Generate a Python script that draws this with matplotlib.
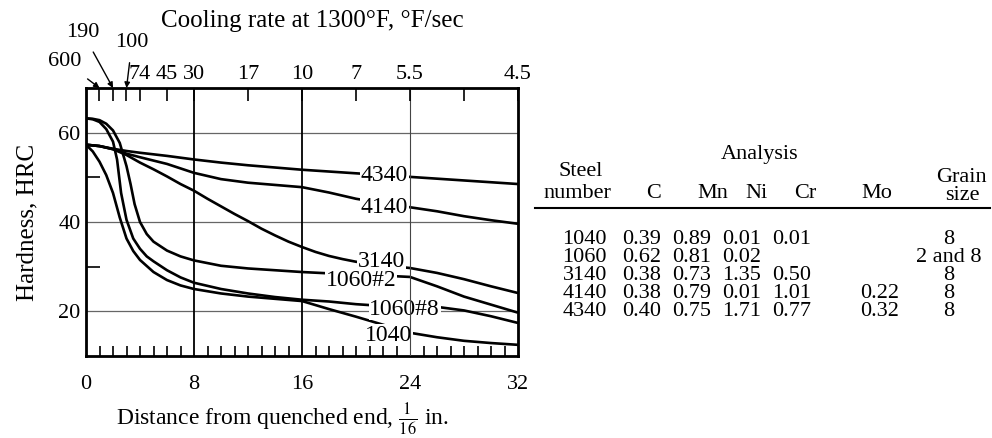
import numpy as np
import matplotlib
matplotlib.use("Agg")
import matplotlib.pyplot as plt

plt.rcParams.update({
    "font.family": "Liberation Serif",
    "mathtext.fontset": "stix",
    "font.size": 15,
})

# ── Jominy curves: distance (1/16 in) vs hardness (HRC) ───────────────────────
d_4340 = [0, 1, 2, 3, 4, 6, 8, 10, 12, 14, 16, 18, 20, 22, 24, 26, 28, 30, 32]
h_4340 = [57.3, 57, 56.4, 55.9, 55.5, 54.8, 54.0, 53.3, 52.7, 52.2, 51.7,
          51.3, 50.9, 50.5, 50.1, 49.7, 49.3, 48.9, 48.5]

d_4140 = [0, 1, 2, 3, 4, 6, 8, 10, 12, 14, 16, 18, 20, 22, 24, 26, 28, 30, 32]
h_4140 = [57.3, 57, 56.3, 55.3, 54.5, 53, 51, 49.6, 48.8, 48.3, 47.8,
          46.6, 45.2, 44.2, 43.3, 42.4, 41.3, 40.4, 39.6]

d_3140 = [0, 1, 2, 3, 4, 5, 6, 7, 8, 9, 10, 11, 12, 13, 14, 15, 16, 17, 18,
          19, 20, 22, 24, 26, 28, 30, 32]
h_3140 = [57.3, 57, 56.3, 55, 53.3, 51.8, 50.2, 48.5, 47, 45.2, 43.5, 41.8,
          40.2, 38.5, 37, 35.6, 34.4, 33.3, 32.4, 31.7, 31.1, 30.3, 29.7,
          28.6, 27.2, 25.6, 24.1]

d_1060_2 = [0, 0.5, 1, 1.5, 2, 2.5, 3, 3.3, 3.6, 4, 4.5, 5, 6, 7, 8, 10, 12,
            14, 16, 18, 20, 22, 24, 26, 28, 30, 32]
h_1060_2 = [63.2, 63.1, 62.8, 62, 60.5, 57.7, 52.5, 48.5, 44, 40, 37.3, 35.6,
            33.6, 32.3, 31.4, 30.2, 29.6, 29.2, 28.8, 28.5, 28.2, 28, 27.7,
            25.6, 23.3, 21.5, 19.7]

d_1060_8 = [0, 0.5, 1, 1.5, 2, 2.3, 2.6, 3, 3.5, 4, 4.5, 5, 6, 7, 8, 10, 12,
            14, 16, 18, 20, 22, 24, 26, 28, 30, 32]
h_1060_8 = [63.2, 63, 62.4, 60.8, 58, 54, 46.5, 40.5, 36.3, 34, 32.3, 31.2,
            29.2, 27.6, 26.4, 25, 24, 23.2, 22.6, 22.2, 21.6, 21.2, 21, 21,
            20.2, 18.9, 17.4]

d_1040 = [0, 0.5, 1, 1.5, 2, 2.5, 3, 3.5, 4, 5, 6, 7, 8, 10, 12, 14, 16, 18,
          20, 22, 24, 26, 28, 30, 32]
h_1040 = [57.3, 55.8, 53.5, 50.5, 46.5, 41, 36.3, 33.5, 31.5, 28.8, 27, 25.8,
          25, 24, 23.3, 22.8, 22.3, 20.5, 18.8, 17, 15.2, 14.2, 13.4, 12.9, 12.5]

curves = [
    ("4340", d_4340, h_4340, (22.1, 50.4)),
    ("4140", d_4140, h_4140, (22.1, 43.3)),
    ("3140", d_3140, h_3140, (21.9, 31.1)),
    ("1060#2", d_1060_2, h_1060_2, (20.4, 26.9)),
    ("1060#8", d_1060_8, h_1060_8, (23.6, 20.5)),
    ("1040", d_1040, h_1040, (22.4, 14.7)),
]

# cooling rate scale on top
rate_pos = [4, 6, 8, 12, 16, 20, 24, 32]
rate_lab = ["74", "45", "30", "17", "10", "7", "5.5", "4.5"]
rate_arrow_pos = [1, 2, 3]
rate_arrow_lab = ["600", "190", "100"]
rate_blank = [28]

# composition table
steels = ["1040", "1060", "3140", "4140", "4340"]
c_col = ["0.39", "0.62", "0.38", "0.38", "0.40"]
mn_col = ["0.89", "0.81", "0.73", "0.79", "0.75"]
ni_col = ["0.01", "0.02", "1.35", "0.01", "1.71"]
cr_col = ["0.01", "", "0.50", "1.01", "0.77"]
mo_col = ["", "", "", "0.22", "0.32"]
grain = ["8", "2 and 8", "8", "8", "8"]

# ── Figure ─────────────────────────────────────────────────────────────────────
W, H = 992, 438
fig = plt.figure(figsize=(W / 100, H / 100), dpi=100)
ax = fig.add_axes([86 / W, (H - 356) / H, 432 / W, 268 / H])

ax.set_xlim(0, 32)
ax.set_ylim(10, 70)

for y in (20, 40, 60):
    ax.axhline(y, color="#666", lw=0.9, zorder=1)
for x in (8, 16):
    ax.axvline(x, color="black", lw=1.3, zorder=4)
ax.axvline(24, color="#444", lw=0.8, zorder=4)

for name, d, h, (lx, ly) in curves:
    ax.plot(d, h, color="black", lw=1.9, zorder=2, solid_capstyle="butt")
    ax.text(lx, ly, name, ha="center", va="center", fontsize=17, zorder=3,
            bbox=dict(facecolor="white", edgecolor="none", pad=0.5))

for s in ax.spines.values():
    s.set_linewidth(2.0)

ax.set_xticks([0, 8, 16, 24, 32])
ax.set_xticks(np.arange(0, 33, 1), minor=True)
ax.set_yticks([20, 40, 60])
ax.set_yticks([30, 50], minor=True)
ax.tick_params(axis="x", which="major", direction="in", length=0, pad=14,
               labelsize=16, top=False)
ax.tick_params(axis="x", which="minor", direction="in", length=7, width=1.2,
               top=False)
ax.tick_params(axis="y", which="major", direction="in", length=0, pad=4,
               labelsize=16)
ax.tick_params(axis="y", which="minor", direction="in", length=10, width=1.2)

ax.set_xlabel(r"Distance from quenched end, $\frac{1}{16}$ in.", fontsize=17,
              labelpad=5)
ax.xaxis.label.set_x((282 - 86) / 432)
ax.set_ylabel("Hardness, HRC", fontsize=18, labelpad=14)

top = ax.twiny()
top.set_xlim(ax.get_xlim())
top.set_xticks(rate_pos)
top.set_xticklabels(rate_lab)
top.set_xticks(rate_arrow_pos + rate_blank, minor=True)
top.tick_params(axis="x", which="both", direction="in", length=9, width=1.2,
                pad=3, labelsize=16)
top.set_xlabel("Cooling rate at 1300°F, °F/sec", fontsize=18, labelpad=27)
top.xaxis.label.set_x((312 - 86) / 432)

offsets = [(-25, 19), (-22, 40), (4, 33)]
for pos, lab, off in zip(rate_arrow_pos, rate_arrow_lab, offsets):
    top.annotate(lab, xy=(pos, 1.0), xycoords=("data", "axes fraction"),
                 xytext=off, textcoords="offset points", fontsize=16,
                 ha="center", va="center",
                 arrowprops=dict(arrowstyle="-|>", color="black", lw=1.0,
                                 mutation_scale=8, shrinkA=6, shrinkB=0))

# ── Table ──────────────────────────────────────────────────────────────────────
def px(x, y, s, **kw):
    fig.text(x / W, 1 - y / H, s, fontsize=16, **kw)

px(760, 155, "Analysis", ha="center", va="center")
px(581, 172, "Steel", ha="center", va="center")
px(577, 194, "number", ha="center", va="center")
px(961, 178, "Grain", ha="center", va="center")
px(962, 196, "size", ha="center", va="center")
heads = [("C", 654), ("Mn", 713), ("Ni", 757), ("Cr", 805), ("Mo", 877)]
for s, x in heads:
    px(x, 194, s, ha="center", va="center")
fig.add_artist(plt.Line2D([535 / W, 990 / W], [1 - 208 / H, 1 - 208 / H],
                          color="black", lw=1.5))

row_y = [240, 258, 276, 294, 312]
col_x = [642, 692, 742, 792, 880]
for i, y in enumerate(row_y):
    px(607, y, steels[i], ha="right", va="center")
    for x, col in zip(col_x, [c_col, mn_col, ni_col, cr_col, mo_col]):
        if col[i]:
            px(x, y, col[i], ha="center", va="center")
    px(949, y, grain[i], ha="center", va="center")

fig.savefig("out.png", dpi=100)
